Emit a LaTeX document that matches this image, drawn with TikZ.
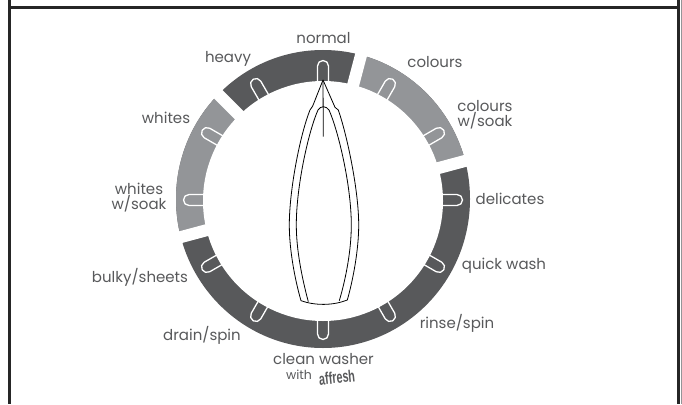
\documentclass[tikz,border=0pt]{standalone}
\usepackage{fontspec}
\setmainfont{Poppins}
\newfontfamily\affr{Liberation Sans}
\definecolor{bandd}{HTML}{58595B}
\definecolor{bandl}{HTML}{939598}
\definecolor{txt}{HTML}{58595B}
\tikzset{
  lab/.style={text=txt,font=\fontsize{15}{15}\selectfont,align=center,inner sep=0pt},
  outline/.style={draw=black,line width=0.8pt,line join=round},
  slotline/.style={draw=white,line width=1.3pt},
  gapline/.style={draw=white,line width=12pt}
}
\begin{document}
\begin{tikzpicture}[x=1pt,y=-1pt]
\useasboundingbox (0,0) rectangle (682,404);
\fill[white] (0,0) rectangle (682,404);
% frame
\fill[bandl] (680.5,0) rectangle (682,404);
\draw[line width=3pt,color=black!85] (9.5,0) -- (9.5,404);
\draw[line width=3pt,color=black!85] (678.8,0) -- (678.8,404);
\draw[line width=3pt,color=black!85] (9.5,7.5) -- (678.8,7.5);
% band
\coordinate (c) at (323,199);
\begin{scope}
  \clip (c) ellipse [x radius=147, y radius=149];
  \fill[bandd] (c) circle (155);
  \fill[bandl] (c) -- ++(-75.2:160) arc (-75.2:-15:160) -- cycle;
  \fill[bandl] (c) -- ++(-135:160) arc (-135:-195:160) -- cycle;
  % slots
  \foreach \a in {0,30,...,330}{
    \begin{scope}[shift={(323,200)},rotate=\a]
      \draw[slotline] (110,-5.5) -- (134,-5.5) arc (-90:90:5.5) -- (110,5.5);
    \end{scope}
  }
\end{scope}
% gaps
\foreach \a in {-75.2,-15,-135,-195}{
  \draw[gapline] (c) -- ++(\a:155);
}
\fill[white] (323,201) circle (120);
% pointer
\coordinate (tip) at (323,80);
\coordinate (inap) at (323.3,106.7);
\draw[outline,fill=white] (tip) -- (312.7,106) -- (310,110)
  .. controls (300,135) and (289.3,190) .. (289.3,225)
  .. controls (289.3,250) and (295,280) .. (301,300.7)
  .. controls (315,305.7) and (333,305.7) .. (347.3,300)
  .. controls (353,280) and (358.7,250) .. (358.7,225)
  .. controls (358.7,190) and (347,135) .. (338.3,110) -- (335,107.3) -- cycle;
\draw[outline] (308.3,301.7)
  .. controls (302,278) and (296.3,250) .. (296.3,225)
  .. controls (296.3,185) and (309,130) .. (318,110)
  .. controls (319.5,108) and (321,106.7) .. (inap)
  .. controls (325.5,106.7) and (327.5,108) .. (329,110)
  .. controls (338,130) and (351.3,185) .. (351.3,225)
  .. controls (351.3,250) and (346,278) .. (339.3,300.7);
\draw[outline] (tip) -- (323.3,136.7);
% labels
\node[lab] (normal) at (323.5,38.5) {normal};
\node[lab] (heavy) at (228,58.5) {heavy};
\node[lab] (colours) at (435,62) {colours};
\node[lab] (coloursw) at (485,115) {colours\\w/soak};
\node[lab] (delicates) at (510,199) {delicates};
\node[lab] (quick) at (504,266) {quick wash};
\node[lab] (rinse) at (457,323) {rinse/spin};
\node[lab] (clean) at (323.5,359.5) {clean washer};
\node[lab,font=\fontsize{12.5}{13}\selectfont] (with) at (299,375) {with};
\node[lab,font=\fontsize{15}{15}\selectfont\affr\bfseries] (aff) at (337,377.5) {\rotatebox{6}{\scalebox{0.72}[1.12]{affresh}}};
\node[lab] (drain) at (202,335) {drain/spin};
\node[lab] (bulky) at (140,277) {bulky/sheets};
\node[lab] (whitesw) at (139,198) {whites\\w/soak};
\node[lab] (whites) at (166,118) {whites};
\end{tikzpicture}
\end{document}
